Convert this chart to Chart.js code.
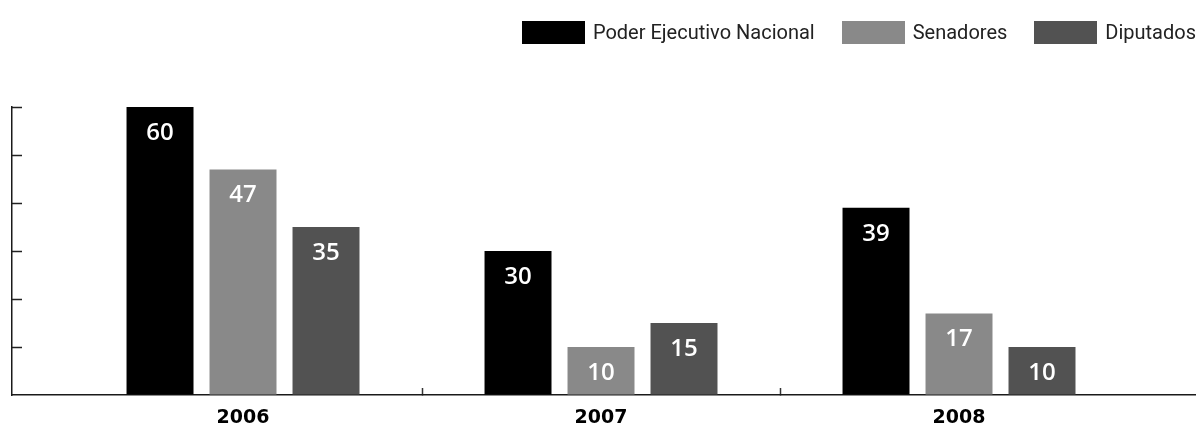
<!DOCTYPE html>
<html lang="es">
<head>
  <meta charset="UTF-8">
  <title>Proyectos por origen 2006-2008</title>
  <style>
    body {
      margin: 0;
      background: #fff;
    }
    .wrap {
      position: relative;
      width: 1197px;
      height: 430px;
    }
    #legend {
      position: absolute;
      top: 20px;
      right: 1px;
      display: flex;
      align-items: center;
      font-family: Roboto, sans-serif;
      font-weight: 400;
      font-size: 20px;
      color: #222;
    }
    #legend .item {
      display: flex;
      align-items: center;
      margin-left: 27px;
    }
    #legend .box {
      width: 63px;
      height: 23px;
      margin-right: 8px;
    }
  </style>
</head>
<body>
  <div class="wrap">
    <canvas id="chart" width="1197" height="430"></canvas>
    <div id="legend"></div>
  </div>

  <script src="https://cdn.jsdelivr.net/npm/chart.js"></script>
  <script>
    // datos
    const years = ['2006', '2007', '2008'];
    const seriesNames = ['Poder Ejecutivo Nacional', 'Senadores', 'Diputados'];
    const ejecutivo = [60, 30, 39];
    const senadores = [47, 10, 17];
    const diputados = [35, 15, 10];
    const yMax = 60;
    const yStep = 10;

    const colors = ['#000000', '#898989', '#525252'];
    const series = [ejecutivo, senadores, diputados];

    // leyenda html
    const legend = document.getElementById('legend');
    seriesNames.forEach((name, i) => {
      const item = document.createElement('div');
      item.className = 'item';
      const box = document.createElement('span');
      box.className = 'box';
      box.style.background = colors[i];
      item.appendChild(box);
      item.appendChild(document.createTextNode(name));
      legend.appendChild(item);
    });

    // numeros blancos dentro de las barras
    const valueLabels = {
      id: 'valueLabels',
      afterDatasetsDraw(chart) {
        const ctx = chart.ctx;
        ctx.save();
        ctx.fillStyle = '#ffffff';
        ctx.font = '600 24px "Open Sans"';
        ctx.textAlign = 'center';
        ctx.textBaseline = 'alphabetic';
        chart.data.datasets.forEach((ds, d) => {
          chart.getDatasetMeta(d).data.forEach((bar, i) => {
            ctx.fillText(String(ds.data[i].y), bar.x, bar.y + 33);
          });
        });
        ctx.restore();
      }
    };

    new Chart(document.getElementById('chart'), {
      type: 'bar',
      data: {
        datasets: series.map((vals, s) => ({
          label: seriesNames[s],
          data: vals.map((v, i) => ({ x: i, y: v })),
          backgroundColor: colors[s],
          borderWidth: 0,
          categoryPercentage: 0.6955,
          barPercentage: 0.807
        }))
      },
      options: {
        responsive: false,
        animation: false,
        layout: { padding: { left: 12, right: 2, top: 107, bottom: 0 } },
        plugins: {
          legend: { display: false },
          tooltip: { enabled: false }
        },
        scales: {
          x: {
            type: 'linear',
            offset: false,
            min: -0.6453,
            max: 2.6592,
            afterBuildTicks: (scale) => {
              scale.ticks = years.map((_, i) => ({ value: i }));
            },
            afterFit: (scale) => { scale.height = 35; },
            border: { display: true, color: '#1a1a1a', width: 1.5 },
            grid: {
              offset: true,
              drawOnChartArea: false,
              drawTicks: true,
              tickLength: -7,
              tickWidth: 1.5,
              color: (c) => (c.type === 'tick' && c.index > 0) ? '#333' : 'rgba(0,0,0,0)'
            },
            ticks: {
              autoSkip: false,
              maxRotation: 0,
              padding: 19,
              color: '#000',
              font: { family: 'DejaVu Sans', weight: 'bold', size: 19 },
              callback: (v) => years[v]
            }
          },
          y: {
            min: 0,
            max: yMax,
            afterFit: (scale) => { scale.width = 0; },
            border: { display: true, color: '#1a1a1a', width: 1.5 },
            grid: {
              drawOnChartArea: false,
              drawTicks: true,
              tickLength: -10,
              tickWidth: 1.5,
              color: (c) => (c.tick && c.tick.value > 0) ? '#222' : 'rgba(0,0,0,0)'
            },
            ticks: { display: false, stepSize: yStep }
          }
        }
      },
      plugins: [valueLabels]
    });
  </script>
</body>
</html>
